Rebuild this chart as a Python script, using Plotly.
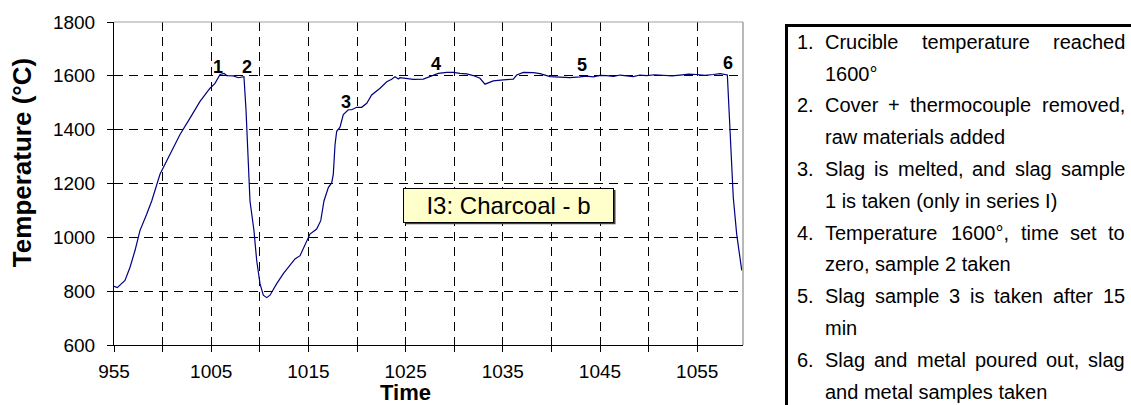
import plotly.graph_objects as go

# ---------------- data ----------------
# minutes after 9:55
time_min = [0.0, 0.34, 1.13, 1.65, 2.16, 2.67, 3.36, 3.88, 4.73, 5.59, 6.79, 7.82, 8.85, 9.88,
            10.39, 10.91, 11.32, 11.59, 12.27, 12.79, 13.24, 13.37, 13.58, 13.82, 13.99, 14.40,
            14.68, 15.02, 15.36, 15.71, 16.05, 16.74, 17.42, 18.62, 19.14, 20.16, 20.85, 21.27,
            21.60, 22.05, 22.40, 22.56, 22.74, 22.91, 23.25, 23.59, 24.10, 24.45, 24.97, 25.48,
            26.00, 26.51, 27.37, 28.06, 28.57, 28.91, 29.25, 29.42, 29.94, 30.79, 31.82, 32.51,
            33.36, 34.23, 34.91, 35.60, 36.28, 36.96, 37.65, 38.17, 39.02, 40.05, 41.08, 41.43,
            42.11, 43.14, 43.83, 44.86, 45.88, 46.91, 47.94, 48.6, 49.31, 50.0, 50.69, 51.4,
            52.06, 52.7, 53.43, 54.1, 54.80, 55.6, 56.51, 57.4, 58.23, 59.1, 59.95, 60.8,
            61.66, 62.35, 63.10, 63.37, 63.71, 64.06, 64.58]
temperature = [818, 813, 840, 889, 951, 1025, 1086, 1135, 1234, 1295, 1382, 1443, 1505, 1554,
               1572, 1605, 1609, 1601, 1600, 1593, 1597, 1597, 1474, 1283, 1135, 1025,
               914, 828, 785, 776, 785, 828, 865, 920, 932, 1012, 1031, 1062,
               1135, 1185, 1203, 1234, 1345, 1394, 1409, 1456, 1474, 1474, 1483, 1483,
               1498, 1529, 1554, 1578, 1587, 1597, 1588, 1593, 1591, 1587, 1588, 1597,
               1609, 1613, 1613, 1609, 1607, 1601, 1591, 1569, 1581, 1585, 1588, 1603,
               1613, 1612, 1608, 1597, 1595, 1593, 1596, 1599, 1596, 1602, 1601, 1598,
               1603, 1600, 1597, 1603, 1601, 1604, 1603, 1600, 1603, 1606, 1605, 1602,
               1605, 1608, 1603, 1406, 1148, 1012, 877]

x_tickvals = [0, 5, 10, 15, 20, 25, 30, 35, 40, 45, 50, 55, 60]
x_ticktext = ["955", "", "1005", "", "1015", "", "1025", "", "1035", "", "1045", "", "1055"]

event_labels = ["1", "2", "3", "4", "5", "6"]
event_x = [10.7, 13.68, 23.87, 33.13, 48.15, 63.17]
event_y = [1634, 1634, 1501, 1645, 1641, 1649]

box_text = "I3: Charcoal - b"
box_x, box_y = 40.59, 1119

# legend: (number, first line (justified), continuation line)
legend_items = [
    ("1.", "Crucible temperature reached", "1600°"),
    ("2.", "Cover + thermocouple removed,", "raw materials added"),
    ("3.", "Slag is melted, and slag sample", "1 is taken (only in series I)"),
    ("4.", "Temperature 1600°, time set to", "zero, sample 2 taken"),
    ("5.", "Slag sample 3 is taken after 15", "min"),
    ("6.", "Slag and metal poured out, slag", "and metal samples taken"),
]

X_MAX = 64.71
FONT = "Arial, Liberation Sans, sans-serif"

# ---------------- geometry helpers (pixels -> paper) ----------------
W, H = 1131, 405
L, R, T, B = 114, 743, 20, 345


def xp(px):
    return (px - L) / (R - L)


def yp(py):
    return (B - py) / (B - T)


# Arial / Liberation Sans advance widths (1/1000 em) used to justify text lines
_AW = {" ": 278, "(": 333, ")": 333, "+": 584, ",": 278, "-": 333, ".": 278, ":": 278,
       "°": 400, "I": 278, "C": 722, "S": 667, "T": 611}
for _c in "0123456789":
    _AW[_c] = 556
_LOWER = dict(a=556, b=556, c=500, d=556, e=556, f=278, g=556, h=556, i=222, j=222, k=500,
              l=222, m=833, n=556, o=556, p=556, q=556, r=333, s=500, t=278, u=556, v=500,
              w=722, x=500, y=500, z=500)
_AW.update(_LOWER)


def text_width(s, size):
    return sum(_AW.get(ch, 556) for ch in s) / 1000.0 * size


fig = go.Figure()
fig.add_trace(go.Scatter(x=time_min, y=temperature, mode="lines",
                         line=dict(color="#000080", width=1.2), showlegend=False,
                         hoverinfo="skip"))

annotations = []
for lab, ex, ey in zip(event_labels, event_x, event_y):
    annotations.append(dict(x=ex, y=ey, xref="x", yref="y", text="<b>%s</b>" % lab,
                            showarrow=False, xanchor="center", yanchor="middle",
                            font=dict(family=FONT, size=18, color="black")))

annotations.append(dict(x=box_x, y=box_y, xref="x", yref="y", text=box_text, showarrow=False,
                        xanchor="center", yanchor="middle",
                        font=dict(family=FONT, size=24, color="black"), bgcolor="#FFFFCC",
                        bordercolor="black", borderwidth=1, borderpad=0, width=209, height=33))

# axis titles
annotations.append(dict(x=xp(405), y=yp(393), xref="paper", yref="paper", text="<b>Time</b>",
                        showarrow=False, xanchor="center", yanchor="middle",
                        font=dict(family=FONT, size=22, color="black")))
annotations.append(dict(x=xp(22), y=yp(162), xref="paper", yref="paper",
                        text="<b>Temperature (°C)</b>", textangle=-90, showarrow=False,
                        xanchor="center", yanchor="middle",
                        font=dict(family=FONT, size=26, color="black")))

# legend text box (justified first lines emulated word by word)
LEG_SIZE = 20
LEG_FONT = dict(family=FONT, size=LEG_SIZE, color="black")
NUM_X, TXT_X, RIGHT_X = 795, 823, 1123
for i, (num, first, second) in enumerate(legend_items):
    ly1 = 40 + 64 * i
    ly2 = ly1 + 32
    annotations.append(dict(x=xp(NUM_X), y=yp(ly1), xref="paper", yref="paper", text=num,
                            showarrow=False, xanchor="left", yanchor="middle", font=LEG_FONT))
    words = first.split(" ")
    total = sum(text_width(w, LEG_SIZE) for w in words)
    gap = (RIGHT_X - TXT_X - total) / (len(words) - 1)
    cx = TXT_X
    for w in words:
        annotations.append(dict(x=xp(cx), y=yp(ly1), xref="paper", yref="paper", text=w,
                                showarrow=False, xanchor="left", yanchor="middle",
                                font=LEG_FONT))
        cx += text_width(w, LEG_SIZE) + gap
    annotations.append(dict(x=xp(TXT_X), y=yp(ly2), xref="paper", yref="paper", text=second,
                            showarrow=False, xanchor="left", yanchor="middle", font=LEG_FONT))

shapes = [
    # gray top / right plot border
    dict(type="line", xref="paper", yref="paper", x0=0, x1=1, y0=1, y1=1,
         line=dict(color="#A0A0A0", width=1), layer="above"),
    dict(type="line", xref="paper", yref="paper", x0=1, x1=1, y0=0, y1=1,
         line=dict(color="#A0A0A0", width=1.5), layer="above"),
    # shadow of the label box
    dict(type="rect", xref="paper", yref="paper", x0=xp(405.5), x1=xp(615.5), y0=yp(223.5), y1=yp(189),
         line=dict(width=0), fillcolor="#404040", layer="above"),
    # legend frame
    dict(type="rect", xref="paper", yref="paper", x0=xp(786.5), x1=xp(1140), y0=yp(415), y1=yp(23.5),
         line=dict(color="black", width=3), fillcolor="rgba(0,0,0,0)", layer="above"),
]

fig.update_layout(
    width=W, height=H,
    margin=dict(l=L, r=W - R, t=T, b=H - B, pad=0),
    paper_bgcolor="white", plot_bgcolor="white",
    font=dict(family=FONT, size=19, color="black"),
    annotations=annotations, shapes=shapes, showlegend=False,
)
fig.update_xaxes(range=[0, X_MAX], tickmode="array", tickvals=x_tickvals, ticktext=x_ticktext,
                 ticks="outside", ticklen=6, tickcolor="black", showline=True, linecolor="black",
                 linewidth=1, showgrid=True, gridcolor="black", gridwidth=1, griddash="9px,6px",
                 zeroline=False, ticklabelstandoff=3,
                 tickfont=dict(family=FONT, size=19, color="black"))
fig.update_yaxes(range=[600, 1800], dtick=200, tick0=600, ticks="outside", ticklen=6,
                 tickcolor="black", showline=True, linecolor="black", linewidth=1, showgrid=True,
                 gridcolor="black", gridwidth=1, griddash="9px,6px", zeroline=False,
                 ticklabelstandoff=8, tickfont=dict(family=FONT, size=19, color="black"))

fig.write_html("out.html")
